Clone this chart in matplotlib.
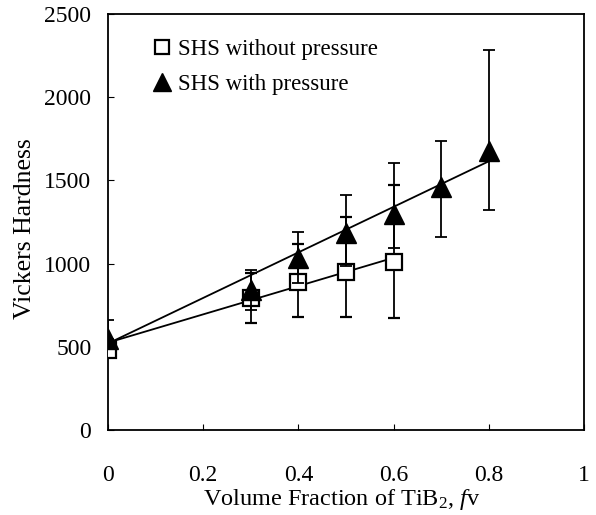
import numpy as np
import matplotlib.pyplot as plt

plt.rcParams['font.family'] = ['Liberation Serif', 'DejaVu Serif']
plt.rcParams['mathtext.fontset'] = 'custom'
plt.rcParams['mathtext.rm'] = 'Liberation Serif'
plt.rcParams['mathtext.it'] = 'Liberation Serif:italic'

# SHS without pressure
fv_nop = [0.0, 0.3, 0.4, 0.5, 0.6]
hv_nop = [480, 795, 890, 950, 1010]
err_nop_lo = [0, 150, 210, 270, 335]
err_nop_hi = [0, 150, 225, 330, 460]

# SHS with pressure
fv_p = [0.0, 0.3, 0.4, 0.5, 0.6, 0.7, 0.8]
hv_p = [545, 843, 1035, 1185, 1295, 1460, 1675]
err_p_lo = [0, 120, 150, 200, 200, 300, 355]
err_p_hi = [115, 120, 155, 225, 310, 275, 610]

# trend line end points
trend_nop_x = [0.0, 0.6]
trend_nop_y = [525, 1035]
trend_p_x = [0.0, 0.8]
trend_p_y = [520, 1615]

fig = plt.figure(figsize=(5.96, 5.15), dpi=100)
ax = fig.add_axes([0.1812, 0.165, 0.799, 0.808])

ax.plot(trend_nop_x, trend_nop_y, color='black', lw=1.3, zorder=2)
ax.plot(trend_p_x, trend_p_y, color='black', lw=1.3, zorder=2)

ax.errorbar(fv_nop, hv_nop, yerr=[err_nop_lo, err_nop_hi], fmt='s', ms=12,
            mfc='white', mec='black', mew=1.6, ecolor='black', elinewidth=1.3,
            capsize=4, capthick=1.3, label='SHS without pressure', zorder=3)
ax.errorbar(fv_p, hv_p, yerr=[err_p_lo, err_p_hi], fmt='^', ms=15,
            mfc='black', mec='black', ecolor='black', elinewidth=1.3,
            capsize=4, capthick=1.3, label='SHS with pressure', zorder=4)

ax.set_xlim(0, 1)
ax.set_ylim(0, 2500)
ax.set_xticks([0, 0.2, 0.4, 0.6, 0.8, 1])
ax.set_xticklabels(['0', '0.2', '0.4', '0.6', '0.8', '1'])
ax.set_yticks([0, 500, 1000, 1500, 2000, 2500])
ax.tick_params(direction='in', labelsize=17, length=4)
ax.tick_params(axis='x', pad=25)
ax.tick_params(axis='y', pad=12)
ax.set_xlabel('Volume Fraction of TiB$_2$, $f$v', fontsize=17.5)
ax.set_ylabel('Vickers Hardness', fontsize=18.5)
ax.xaxis.set_label_coords(0.49, -0.168)
ax.xaxis.label.set_va('center')
ax.yaxis.set_label_coords(-0.174, 0.483)
ax.yaxis.label.set_va('center')
for s in ax.spines.values():
    s.set_linewidth(1.3)

h, l = ax.get_legend_handles_labels()
h = [x[0] for x in h]
ax.legend(h, l, loc='upper left', bbox_to_anchor=(0.045, 0.99), frameon=False,
          fontsize=16.5, handletextpad=0.2, handlelength=1.0, markerscale=0.85,
          labelspacing=0.6)

fig.savefig('out.png', dpi=100)
